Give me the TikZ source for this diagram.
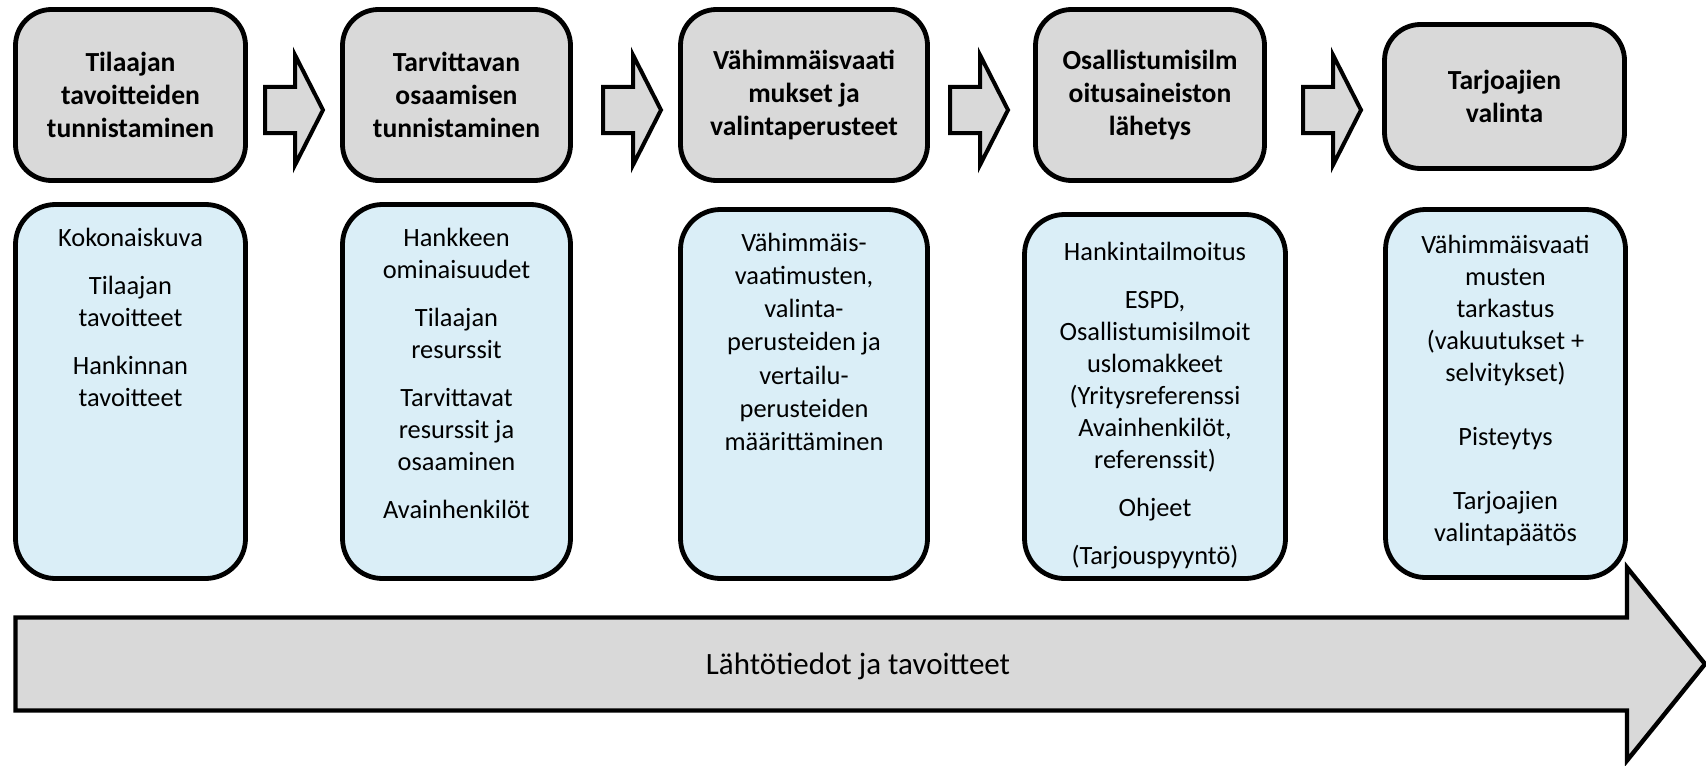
\documentclass[tikz,border=0pt]{standalone}
\usepackage{fontspec}
\setmainfont{Carlito}
\usetikzlibrary{positioning}
\definecolor{stagegray}{HTML}{D9D9D9}
\definecolor{taskblue}{HTML}{DAEEF7}

\begin{document}
\begin{tikzpicture}[auto, thick, x=0.5pt, y=-0.5pt]
		% Define styles
		\tikzstyle{stage} = [draw, line width=2.4pt, rectangle, rounded corners=18pt, fill=stagegray, minimum height=85.5pt, align=center, font=\bfseries\fontsize{13.8}{16.5}\selectfont]
		\tikzstyle{task} = [draw, line width=2.4pt, rectangle, rounded corners=20pt, fill=taskblue, minimum height=187pt]
		\tikzstyle{tasktext} = [inner sep=0pt, align=center, font=\fontsize{13.2}{16}\selectfont]
		\tikzstyle{flow} = [draw, line width=2pt, fill=stagegray, line join=miter]
		\tikzstyle{mainarrow} = [draw, line width=2.2pt, fill=stagegray, line join=miter]

		\useasboundingbox (0,0) rectangle (1706,765);

		% Bottom arrow (behind the boxes)
		\draw [mainarrow] (15.5,617.5) -- (1627,617.5) -- (1627,567.5) -- (1705,664) -- (1627,760.5) -- (1627,710.5) -- (15.5,710.5) -- cycle;
		\node [font=\fontsize{15.5}{18}\selectfont] (basis) at (858, 666) {Lähtötiedot ja tavoitteet};

		% Stage boxes
		\node [stage, minimum width=115pt] (stage1) at (130.5, 95) {Tilaajan\\tavoitteiden\\tunnistaminen};
		\node [stage, minimum width=114pt] (stage2) at (456.5, 95) {Tarvittavan\\osaamisen\\tunnistaminen};
		\node [stage, minimum width=123.5pt] (stage3) at (804, 95) {Vähimmäisvaati\\mukset ja\\valintaperusteet};
		\node [stage, minimum width=114.5pt] (stage4) at (1150, 95) {Osallistumisilm\\oitusaineiston\\lähetys};
		\node [stage, minimum width=120pt, minimum height=72pt] (stage5) at (1504.5, 96.5) {Tarjoajien\\valinta};

		% Arrows between stages
		\draw [flow] (265,87) -- (295,87) -- (295,55) -- (323,110) -- (295,165) -- (295,133) -- (265,133) -- cycle;
		\draw [flow] (603,87) -- (633,87) -- (633,55) -- (661,110) -- (633,165) -- (633,133) -- (603,133) -- cycle;
		\draw [flow] (950,87) -- (980,87) -- (980,55) -- (1008,110) -- (980,165) -- (980,133) -- (950,133) -- cycle;
		\draw [flow] (1303,87) -- (1333,87) -- (1333,55) -- (1361,110) -- (1333,165) -- (1333,133) -- (1303,133) -- cycle;

		% Task boxes
		\node [task, minimum width=115pt] (task1) at (130.5, 391.5) {};
		\node [task, minimum width=114pt] (task2) at (456.5, 391.5) {};
		\node [task, minimum width=123.5pt, minimum height=184.5pt] (task3) at (804, 394) {};
		\node [task, minimum width=130.5pt, minimum height=182pt] (task4) at (1155, 396.5) {};
		\node [task, minimum width=120pt, minimum height=184pt] (task5) at (1505.5, 393.5) {};

		% Task contents
		\node [tasktext, below=12.5pt of task1.north] (task1text) {Kokonaiskuva\\[8pt]Tilaajan\\tavoitteet\\[8pt]Hankinnan\\tavoitteet};
		\node [tasktext, below=12.5pt of task2.north] (task2text) {Hankkeen\\ominaisuudet\\[8pt]Tilaajan\\resurssit\\[8pt]Tarvittavat\\resurssit ja\\osaaminen\\[8pt]Avainhenkilöt};
		\node [tasktext, below=12.5pt of task3.north, font=\fontsize{13.2}{16.6}\selectfont] (task3text) {Vähimmäis-\\vaatimusten,\\valinta-\\perusteiden ja\\vertailu-\\perusteiden\\määrittäminen};
		\node [tasktext, below=14.5pt of task4.north] (task4text) {Hankintailmoitus\\[8pt]ESPD,\\Osallistumisilmoit\\uslomakkeet\\(Yritysreferenssi\\Avainhenkilöt,\\referenssit)\\[8pt]Ohjeet\\[8pt](Tarjouspyyntö)};
		\node [tasktext, below=13.5pt of task5.north] (task5text) {Vähimmäisvaati\\musten\\tarkastus\\(vakuutukset +\\selvitykset)\\[16pt]Pisteytys\\[16pt]Tarjoajien\\valintapäätös};

	\end{tikzpicture}
\end{document}
